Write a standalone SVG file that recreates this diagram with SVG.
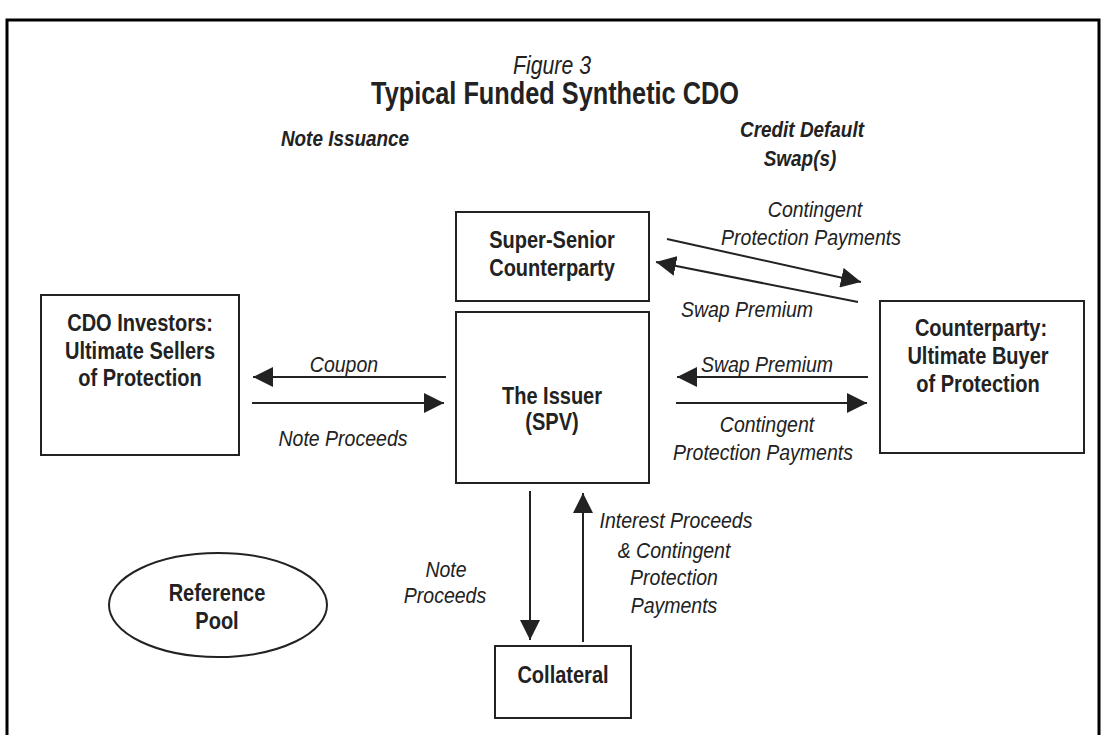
<svg xmlns="http://www.w3.org/2000/svg" width="1105" height="735" viewBox="0 0 1105 735">
<style>
.bx{fill:#fff;stroke:#222;stroke-width:2}
text{font-family:"Liberation Sans",Arial,sans-serif;fill:#222;text-anchor:middle}
.bt{font-weight:bold;font-size:23px}
.lb{font-style:italic;font-size:22.5px}
.hd{font-style:italic;font-weight:bold;font-size:22px}
.cn line{stroke:#222;stroke-width:2;marker-end:url(#ah)}
</style>
<defs>
<marker id="ah" markerUnits="userSpaceOnUse" markerWidth="20" markerHeight="20" viewBox="0 0 20 20" refX="20" refY="10" orient="auto"><path d="M0,0 L20,10 L0,20 z" fill="#222"/></marker>
</defs>
<rect width="1105" height="735" fill="#fff"/>
<path d="M7,735 V20 H1099 V735" fill="none" stroke="#000" stroke-width="3"/>
<g id="title">
<text transform="translate(552,74) scale(0.85,1)" font-style="italic" font-size="25">Figure 3</text>
<text transform="translate(555,104) scale(0.83,1)" font-weight="bold" font-size="30.5" fill="#111">Typical Funded Synthetic CDO</text>
<text class="hd" transform="translate(345,146) scale(0.86,1)">Note Issuance</text>
<text class="hd" transform="translate(802,137) scale(0.86,1)">Credit Default</text>
<text class="hd" transform="translate(800,166) scale(0.86,1)">Swap(s)</text>
</g>
<g id="super-senior">
<rect class="bx" x="456" y="212" width="193" height="89"/>
<text class="bt" transform="translate(552,248) scale(0.87,1)">Super-Senior</text>
<text class="bt" transform="translate(552,276) scale(0.87,1)">Counterparty</text>
</g>
<g id="issuer">
<rect class="bx" x="456" y="312" width="193" height="171"/>
<text class="bt" transform="translate(552,404) scale(0.87,1)">The Issuer</text>
<text class="bt" transform="translate(552,430) scale(0.87,1)">(SPV)</text>
</g>
<g id="cdo-investors">
<rect class="bx" x="41" y="295" width="198" height="160"/>
<text class="bt" transform="translate(140,331) scale(0.87,1)">CDO Investors:</text>
<text class="bt" transform="translate(140,359) scale(0.87,1)">Ultimate Sellers</text>
<text class="bt" transform="translate(140,386) scale(0.87,1)">of Protection</text>
</g>
<g id="counterparty">
<rect class="bx" x="880" y="301" width="204" height="152"/>
<text class="bt" transform="translate(981,336) scale(0.87,1)">Counterparty:</text>
<text class="bt" transform="translate(978,364) scale(0.87,1)">Ultimate Buyer</text>
<text class="bt" transform="translate(978,392) scale(0.87,1)">of Protection</text>
</g>
<g id="collateral">
<rect class="bx" x="495" y="646" width="136" height="72"/>
<text class="bt" transform="translate(563,683) scale(0.87,1)">Collateral</text>
</g>
<g id="reference-pool">
<ellipse cx="218" cy="605" rx="109" ry="52" fill="#fff" stroke="#222" stroke-width="2"/>
<text class="bt" transform="translate(217,601) scale(0.87,1)">Reference</text>
<text class="bt" transform="translate(217,629) scale(0.87,1)">Pool</text>
</g>
<g id="connectors" class="cn">
<line x1="667" y1="239" x2="861" y2="282"/>
<line x1="858" y1="302" x2="656" y2="262"/>
<line x1="446" y1="377" x2="253" y2="377"/>
<line x1="252" y1="403" x2="444" y2="403"/>
<line x1="868" y1="377" x2="677" y2="377"/>
<line x1="676" y1="403" x2="867" y2="403"/>
<line x1="530" y1="491" x2="530" y2="640"/>
<line x1="583" y1="642" x2="583" y2="493"/>
</g>
<g id="labels">
<text class="lb" transform="translate(815,217) scale(0.867,1)">Contingent</text>
<text class="lb" transform="translate(811,245) scale(0.867,1)">Protection Payments</text>
<text class="lb" transform="translate(747,317) scale(0.867,1)">Swap Premium</text>
<text class="lb" transform="translate(344,372) scale(0.867,1)">Coupon</text>
<text class="lb" transform="translate(343,446) scale(0.867,1)">Note Proceeds</text>
<text class="lb" transform="translate(767,372) scale(0.867,1)">Swap Premium</text>
<text class="lb" transform="translate(767,432) scale(0.867,1)">Contingent</text>
<text class="lb" transform="translate(763,460) scale(0.867,1)">Protection Payments</text>
<text class="lb" transform="translate(446,577) scale(0.867,1)">Note</text>
<text class="lb" transform="translate(445,603) scale(0.867,1)">Proceeds</text>
<text class="lb" transform="translate(676,528) scale(0.867,1)">Interest Proceeds</text>
<text class="lb" transform="translate(674,558) scale(0.867,1)">&amp; Contingent</text>
<text class="lb" transform="translate(674,585) scale(0.867,1)">Protection</text>
<text class="lb" transform="translate(674,613) scale(0.867,1)">Payments</text>
</g>
</svg>
